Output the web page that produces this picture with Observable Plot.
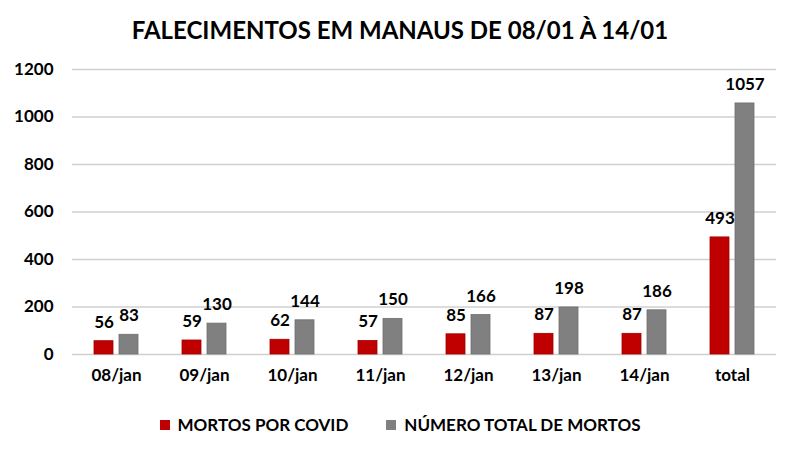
<!DOCTYPE html>
<html>
<head>
<meta charset="utf-8">
<script src="https://cdn.jsdelivr.net/npm/d3@7"></script>
<script src="https://cdn.jsdelivr.net/npm/@observablehq/plot@0.6"></script>
<style>
  body { margin: 0; background: #fff; font-family: Lato, "Open Sans", sans-serif; }
  #wrap { width: 800px; }
  #title { height: 50px; line-height: 60px; text-align: center; font-weight: bold; font-size: 24px; color: #000; }
  #legend { display: flex; justify-content: center; gap: 38px; font-size: 17px; font-weight: bold; color: #000; margin-top: 24px; }
  #legend span.sw { display: inline-block; width: 10px; height: 10px; margin-right: 8px; vertical-align: 1px; }
</style>
</head>
<body>
<div id="wrap">
  <div id="title">FALECIMENTOS EM MANAUS DE 08/01 À 14/01</div>
  <div id="chart"></div>
  <div id="legend"></div>
</div>
<script>
const categories = ["08/jan", "09/jan", "10/jan", "11/jan", "12/jan", "13/jan", "14/jan", "total"];
const covidDeaths = [56, 59, 62, 57, 85, 87, 87, 493];
const totalDeaths = [83, 130, 144, 150, 166, 198, 186, 1057];
const seriesNames = ["MORTOS POR COVID", "NÚMERO TOTAL DE MORTOS"];
const seriesColors = ["#C00000", "#808080"];
const yTicks = [0, 200, 400, 600, 800, 1000, 1200];

const data = [];
categories.forEach((c, i) => {
  data.push({cat: c, series: seriesNames[0], value: covidDeaths[i]});
  data.push({cat: c, series: seriesNames[1], value: totalDeaths[i]});
});

const chart = Plot.plot({
  width: 800,
  height: 340,
  marginLeft: 69,
  marginRight: 22,
  marginTop: 19,
  marginBottom: 36,
  style: {fontFamily: "Lato, 'Open Sans', sans-serif", fontWeight: "bold", fontSize: "17px", color: "#000", background: "#fff"},
  fx: {domain: categories, padding: 0, label: null, axis: "bottom", tickSize: 0, tickPadding: 14},
  x: {domain: seriesNames, axis: null, paddingInner: 0.23, paddingOuter: 0.82},
  y: {domain: [0, 1200], ticks: yTicks, tickFormat: d3.format("d"), label: null, tickSize: 0, tickPadding: 19, grid: false},
  color: {domain: seriesNames, range: seriesColors},
  marks: [
    Plot.ruleY(yTicks, {stroke: "#d0d0d0", strokeWidth: 1.5}),
    Plot.barY(data, {fx: "cat", x: "series", y: "value", fill: "series", stroke: d => d.series === seriesNames[0] ? "#a00000" : "#6e6e6e", strokeWidth: 0.8}),
    Plot.text(data, {fx: "cat", x: "series", y: "value", text: d => String(d.value), dy: -19, fontSize: 17, fontWeight: "bold", fill: "#000"})
  ]
});
document.getElementById("chart").appendChild(chart);

const legend = document.getElementById("legend");
seriesNames.forEach((s, i) => {
  const item = document.createElement("div");
  const sw = document.createElement("span");
  sw.className = "sw";
  sw.style.background = seriesColors[i];
  item.appendChild(sw);
  item.appendChild(document.createTextNode(s));
  legend.appendChild(item);
});
</script>
</body>
</html>
